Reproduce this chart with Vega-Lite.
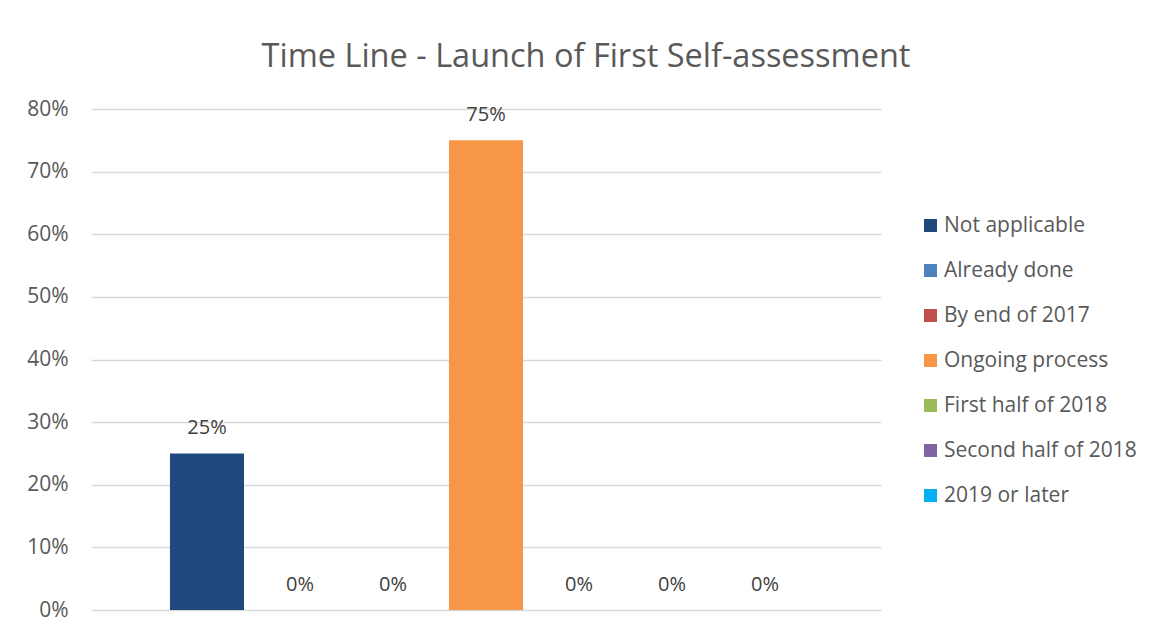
{
  "$schema": "https://vega.github.io/schema/vega-lite/v6.json",
  "width": 790,
  "height": 501,
  "autosize": {"type": "none"},
  "padding": {"left": 91, "top": 109, "right": 273, "bottom": 22},
  "background": "white",
  "title": {
    "text": "Time Line - Launch of First Self-assessment",
    "fontSize": 32.5,
    "font": "Open Sans",
    "fontWeight": "normal",
    "color": "#595959",
    "anchor": "middle",
    "frame": "group",
    "dx": 100,
    "offset": 25
  },
  "data": {
    "values": [
      {"category": "Not applicable", "value": 0.25},
      {"category": "Already done", "value": 0},
      {"category": "By end of 2017", "value": 0},
      {"category": "Ongoing process", "value": 0.75},
      {"category": "First half of 2018", "value": 0},
      {"category": "Second half of 2018", "value": 0},
      {"category": "2019 or later", "value": 0}
    ]
  },
  "encoding": {
    "x": {
      "field": "category",
      "type": "nominal",
      "sort": null,
      "scale": {"paddingInner": 0.204, "paddingOuter": 0.849},
      "axis": null
    },
    "y": {
      "field": "value",
      "type": "quantitative",
      "scale": {"domain": [0, 0.8], "nice": false},
      "axis": {
        "values": [0, 0.1, 0.2, 0.3, 0.4, 0.5, 0.6, 0.7, 0.8],
        "format": ".0%",
        "grid": true,
        "gridColor": "#d9d9d9",
        "gridWidth": 1.5,
        "domain": false,
        "ticks": false,
        "labelFont": "Open Sans",
        "labelFontSize": 21,
        "labelColor": "#595959",
        "labelPadding": 23,
        "title": null
      }
    }
  },
  "layer": [
    {
      "mark": {"type": "bar"},
      "encoding": {
        "color": {
          "field": "category",
          "type": "nominal",
          "sort": null,
          "scale": {
            "domain": ["Not applicable", "Already done", "By end of 2017", "Ongoing process", "First half of 2018", "Second half of 2018", "2019 or later"],
            "range": ["#1F497D", "#4F81BD", "#C0504D", "#F79646", "#9BBB59", "#8064A2", "#00B0F0"]
          },
          "legend": {
            "orient": "none",
            "legendX": 829,
            "legendY": 106,
            "title": null,
            "symbolType": "square",
            "symbolSize": 169,
            "symbolStrokeWidth": 0,
            "labelFont": "Open Sans",
            "labelFontSize": 21,
            "labelColor": "#595959",
            "labelOffset": 3,
            "labelLimit": 400,
            "rowPadding": 23
          }
        }
      }
    },
    {
      "mark": {"type": "text", "baseline": "middle", "dy": -25, "font": "Open Sans", "fontSize": 20, "color": "#404040"},
      "encoding": {
        "text": {"field": "value", "type": "quantitative", "format": ".0%"}
      }
    }
  ],
  "config": {"view": {"stroke": null}}
}
